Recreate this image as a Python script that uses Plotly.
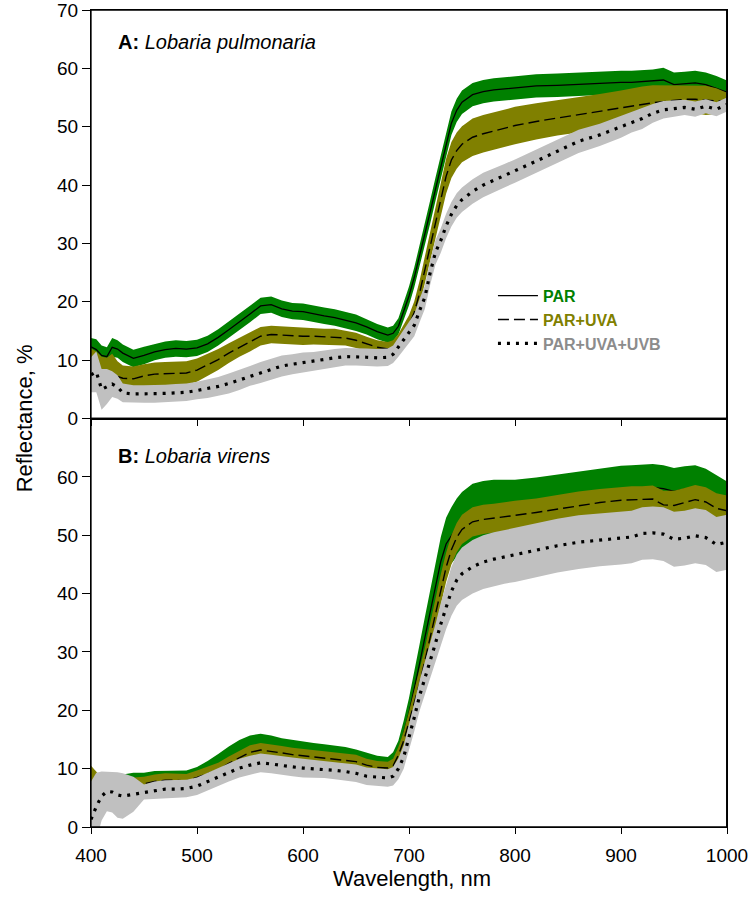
import plotly.graph_objects as go
from plotly.subplots import make_subplots

wavelength = [400, 405, 410, 415, 420, 425, 430, 440, 450, 460, 470, 480, 490, 500, 510, 520, 530, 540, 550, 560,
              570, 580, 590, 600, 610, 620, 630, 640, 650, 660, 670, 680, 685, 690, 695, 700, 705, 710, 715, 720,
              725, 730, 735, 740, 745, 750, 760, 770, 780, 790, 800, 820, 840, 860, 880, 900, 910, 920, 930, 940,
              950, 960, 970, 980, 990, 1000]

# Panel A: Lobaria pulmonaria (means and half-widths of the shaded bands)
a_par = [12.3, 11.8, 10.8, 10.6, 12.2, 11.9, 11.2, 10.3, 10.8, 11.4, 11.8, 12.0, 11.9, 12.1, 12.8, 13.9, 15.2, 16.5, 17.9, 19.3,
         19.5, 18.8, 18.4, 18.3, 17.9, 17.6, 17.3, 16.9, 16.4, 15.7, 14.9, 14.3, 14.6, 15.8, 18.3, 21.0, 24.2, 27.8, 31.6, 35.4,
         39.3, 43.2, 47.0, 50.6, 52.8, 54.2, 55.5, 56.0, 56.3, 56.5, 56.7, 57.0, 57.1, 57.3, 57.4, 57.6, 57.6, 57.7, 57.8, 58.0,
         57.2, 57.3, 57.5, 57.2, 56.6, 55.9]
a_par_err = [1.5, 1.8, 1.7, 1.6, 1.6, 1.5, 1.5, 1.5, 1.5, 1.4, 1.4, 1.4, 1.4, 1.4, 1.4, 1.4, 1.4, 1.4, 1.4, 1.4,
             1.4, 1.4, 1.4, 1.4, 1.4, 1.4, 1.4, 1.4, 1.4, 1.3, 1.3, 1.3, 1.3, 1.4, 1.5, 1.6, 1.7, 1.8, 1.9, 2.0,
             2.0, 2.0, 2.0, 2.0, 2.0, 2.0, 2.0, 2.0, 2.0, 2.0, 2.0, 2.0, 2.0, 2.0, 2.0, 2.0, 2.0, 2.0, 2.0, 2.1,
             2.1, 2.1, 2.1, 2.1, 2.1, 2.0]
a_uva = [10.0, 9.0, 8.0, 7.4, 7.5, 7.2, 6.9, 6.8, 7.3, 7.6, 7.7, 7.7, 7.8, 8.3, 9.2, 10.1, 11.2, 12.2, 13.1, 14.1,
         14.4, 14.3, 14.1, 14.1, 14.1, 14.0, 14.0, 13.8, 13.4, 12.8, 12.2, 11.9, 12.2, 13.2, 14.5, 16.0, 18.2, 21.5, 25.5, 29.5,
         33.8, 37.8, 41.5, 44.3, 45.9, 47.0, 48.2, 48.8, 49.3, 49.8, 50.2, 50.9, 51.5, 52.0, 52.6, 53.2, 53.6, 53.9, 54.1, 54.3,
         54.5, 54.7, 54.7, 54.5, 54.4, 54.4]
a_uva_err = [2.0, 2.5, 2.6, 3.0, 3.6, 2.6, 2.2, 2.1, 2.0, 2.0, 2.0, 2.0, 2.0, 2.0, 1.9, 1.8, 1.7, 1.6, 1.6, 1.6,
             1.5, 1.5, 1.5, 1.5, 1.4, 1.4, 1.4, 1.3, 1.3, 1.2, 1.2, 1.2, 1.2, 1.3, 1.5, 1.7, 1.9, 2.1, 2.3, 2.5,
             2.7, 2.9, 3.0, 3.1, 3.1, 3.1, 3.2, 3.2, 3.2, 3.2, 3.2, 3.1, 3.0, 3.0, 3.0, 3.0, 3.0, 3.0, 3.0, 2.8,
             2.5, 2.4, 2.4, 2.5, 2.2, 1.4]
a_uvb = [7.5, 8.0, 5.0, 5.5, 5.9, 5.4, 4.4, 4.2, 4.2, 4.2, 4.3, 4.4, 4.5, 4.8, 5.1, 5.5, 6.0, 6.6, 7.3, 7.9,
         8.5, 9.0, 9.3, 9.6, 9.8, 10.1, 10.4, 10.6, 10.6, 10.5, 10.4, 10.5, 11.0, 12.2, 13.4, 14.6, 16.0, 18.5, 20.8, 25.0,
         28.5, 30.5, 33.0, 35.0, 36.5, 37.5, 38.9, 40.0, 40.8, 41.6, 42.4, 44.1, 45.8, 47.5, 48.6, 50.0, 50.8, 51.4, 52.3, 52.9,
         53.1, 53.3, 53.0, 53.5, 53.0, 53.8]
a_uvb_err = [3.0, 3.5, 3.5, 3.0, 2.2, 2.0, 1.6, 1.5, 1.5, 1.5, 1.5, 1.5, 1.5, 1.5, 1.6, 1.6, 1.7, 1.7, 1.7, 1.8,
             1.8, 1.8, 1.7, 1.7, 1.6, 1.6, 1.5, 1.5, 1.5, 1.5, 1.5, 1.5, 1.5, 1.6, 1.7, 1.8, 1.9, 2.0, 2.0, 2.1,
             2.1, 2.1, 2.1, 2.1, 2.1, 2.1, 2.1, 2.1, 2.0, 2.0, 2.0, 2.0, 2.0, 2.0, 1.9, 1.9, 1.8, 1.8, 1.6, 1.5,
             1.4, 1.3, 1.3, 1.2, 1.2, 1.2]

# Panel B: Lobaria virens
b_par = [8.0, 7.5, 7.5, 7.8, 8.0, 7.8, 7.8, 8.0, 8.0, 8.3, 8.3, 8.3, 8.4, 8.8, 9.6, 10.6, 11.8, 12.8, 13.5, 13.8,
         13.6, 13.2, 13.0, 12.9, 12.7, 12.5, 12.4, 12.1, 11.8, 11.2, 10.8, 10.6, 11.3, 13.0, 16.0, 19.5, 23.5, 28.0, 32.5, 37.0,
         41.5, 45.5, 48.5, 50.0, 51.3, 52.2, 53.4, 54.0, 54.5, 54.9, 55.3, 55.8, 56.4, 57.0, 57.5, 57.9, 58.0, 58.1, 58.2, 58.0,
         57.5, 57.9, 58.1, 57.7, 56.9, 56.2]
b_par_err = [1.0, 1.0, 1.0, 1.0, 1.2, 1.2, 1.2, 1.3, 1.3, 1.3, 1.3, 1.3, 1.3, 1.5, 1.7, 1.9, 2.0, 2.1, 2.2, 2.2,
             2.1, 2.0, 1.9, 1.8, 1.7, 1.7, 1.6, 1.6, 1.5, 1.5, 1.4, 1.4, 1.5, 1.8, 2.2, 2.6, 3.0, 3.3, 3.5, 3.6,
             3.8, 4.2, 4.5, 4.8, 5.0, 5.2, 5.4, 5.3, 5.0, 4.6, 4.2, 4.1, 4.0, 4.0, 4.0, 4.0, 4.0, 4.0, 4.0, 4.0,
             4.0, 3.9, 3.9, 3.7, 3.4, 3.0]
b_uva = [7.5, 6.0, 5.5, 6.5, 7.0, 7.0, 7.2, 7.3, 7.4, 7.8, 8.0, 8.0, 7.9, 8.5, 9.2, 9.8, 10.9, 11.9, 12.8, 13.2,
         13.0, 12.7, 12.4, 12.2, 12.0, 11.8, 11.5, 11.4, 11.2, 10.6, 10.2, 10.1, 10.5, 12.3, 14.8, 18.0, 21.3, 24.6, 28.5, 32.6,
         36.8, 40.8, 44.5, 47.5, 49.6, 51.0, 52.3, 52.7, 52.9, 53.2, 53.4, 53.9, 54.5, 55.1, 55.6, 56.0, 56.1, 56.1, 56.2, 55.2,
         55.1, 55.6, 56.1, 55.7, 54.6, 54.2]
b_uva_err = [3.0, 3.5, 3.0, 2.0, 1.5, 1.3, 1.2, 1.2, 1.2, 1.2, 1.2, 1.2, 1.2, 1.2, 1.2, 1.2, 1.2, 1.2, 1.2, 1.2,
             1.2, 1.2, 1.2, 1.2, 1.2, 1.2, 1.2, 1.2, 1.2, 1.1, 1.1, 1.1, 1.2, 1.4, 1.6, 1.8, 2.0, 2.1, 2.2, 2.3,
             2.4, 2.5, 2.5, 2.5, 2.5, 2.5, 2.5, 2.5, 2.5, 2.5, 2.5, 2.4, 2.4, 2.4, 2.3, 2.3, 2.3, 2.3, 2.3, 2.4,
             2.5, 2.5, 2.5, 2.5, 2.6, 2.6]
b_uvb = [1.3, 3.5, 5.3, 6.1, 6.0, 5.5, 5.3, 5.6, 6.0, 6.3, 6.5, 6.5, 6.6, 7.0, 7.8, 8.6, 9.4, 10.1, 10.6, 11.0,
         10.8, 10.5, 10.3, 10.1, 10.0, 9.9, 9.7, 9.5, 9.2, 8.7, 8.5, 8.4, 8.7, 10.0, 12.0, 15.3, 18.8, 22.5, 25.5, 28.3,
         31.5, 34.8, 37.8, 40.4, 42.3, 43.4, 44.6, 45.4, 45.9, 46.3, 46.6, 47.4, 48.2, 48.8, 49.2, 49.5, 49.7, 50.3, 50.4, 50.2,
         49.3, 49.5, 49.9, 49.6, 48.4, 48.8]
b_uvb_err = [6.5, 5.8, 4.2, 3.4, 3.5, 3.9, 3.9, 3.0, 1.3, 1.5, 1.5, 1.5, 1.5, 1.5, 1.5, 1.5, 1.6, 1.6, 1.6, 1.6,
             1.6, 1.6, 1.6, 1.6, 1.5, 1.5, 1.5, 1.5, 1.5, 1.5, 1.5, 1.5, 1.6, 1.8, 2.0, 2.2, 2.4, 2.6, 2.8, 3.0,
             3.3, 3.6, 3.9, 4.2, 4.4, 4.5, 4.6, 4.6, 4.6, 4.6, 4.6, 4.6, 4.6, 4.6, 4.5, 4.5, 4.5, 4.5, 4.5, 4.6,
             4.7, 4.7, 4.7, 4.7, 4.7, 4.7]

x_ticks = [400, 500, 600, 700, 800, 900, 1000]
y_ticks_a = [0, 10, 20, 30, 40, 50, 60, 70]
y_ticks_b = [0, 10, 20, 30, 40, 50, 60]

series_names = ["PAR", "PAR+UVA", "PAR+UVA+UVB"]
band_colors = ["#008000", "#808000", "#C0C0C0"]
label_colors = ["#008000", "#808000", "#8C8C8C"]
line_dashes = ["solid", "11px,5px", "3px,6px"]
line_widths = [1.3, 1.4, 3.2]

FONT = "Arial, 'Liberation Sans', Helvetica, sans-serif"

fig = make_subplots(rows=2, cols=1, shared_xaxes=True, vertical_spacing=0)

panels = [
    (1, [a_par, a_uva, a_uvb], [a_par_err, a_uva_err, a_uvb_err]),
    (2, [b_par, b_uva, b_uvb], [b_par_err, b_uva_err, b_uvb_err]),
]

# each series: its shaded band, then its mean line (later series cover earlier ones)
for row, means, errs in panels:
    for i in range(3):
        m, e = means[i], errs[i]
        upper = [v + d for v, d in zip(m, e)]
        lower = [v - d for v, d in zip(m, e)]
        fig.add_trace(go.Scatter(x=wavelength, y=upper, mode="lines", line=dict(width=0, color=band_colors[i]),
                                 showlegend=False, hoverinfo="skip"), row=row, col=1)
        fig.add_trace(go.Scatter(x=wavelength, y=lower, mode="lines", line=dict(width=0, color=band_colors[i]),
                                 fill="tonexty", fillcolor=band_colors[i], showlegend=False, hoverinfo="skip"),
                      row=row, col=1)
        name = '<b><span style="color:%s">%s</span></b>' % (label_colors[i], series_names[i])
        fig.add_trace(go.Scatter(x=wavelength, y=m, mode="lines", name=name,
                                 line=dict(color="black", width=line_widths[i], dash=line_dashes[i]),
                                 showlegend=(row == 1)), row=row, col=1)

axis_common = dict(showline=True, linecolor="black", linewidth=1.3, mirror=True, showgrid=False, zeroline=False,
                   ticks="outside", tickcolor="black", tickwidth=1.2, automargin=False,
                   ticklabeloverflow="allow", layer="above traces",
                   tickfont=dict(family=FONT, size=19, color="black"))

fig.update_xaxes(range=[400, 1000], tickvals=x_ticks, ticklen=6, **axis_common)
fig.update_xaxes(showticklabels=False, row=1, col=1)
fig.update_xaxes(showticklabels=True, ticklabelstandoff=5, row=2, col=1)
fig.update_yaxes(range=[0, 70], ticklen=8, **axis_common)
fig.update_yaxes(tickvals=y_ticks_a, row=1, col=1)
fig.update_yaxes(tickvals=y_ticks_b, row=2, col=1)

# panel frames
frame_shapes = [
    dict(type="rect", xref="x domain", yref="y domain", x0=0, x1=0.9995, y0=0, y1=1,
         line=dict(color="black", width=1.3), fillcolor="rgba(0,0,0,0)", layer="above"),
    dict(type="rect", xref="x2 domain", yref="y2 domain", x0=0, x1=0.9995, y0=0, y1=1,
         line=dict(color="black", width=1.3), fillcolor="rgba(0,0,0,0)", layer="above"),
]

fig.update_layout(
    template="none",
    width=748, height=907,
    margin=dict(l=91, r=21, t=10, b=80, autoexpand=False),
    paper_bgcolor="white", plot_bgcolor="white",
    font=dict(family=FONT, color="black"),
    shapes=frame_shapes,
    legend=dict(x=0.632, y=0.671, xanchor="left", yanchor="top", bgcolor="rgba(0,0,0,0)",
                font=dict(family=FONT, size=16), tracegroupgap=0, itemwidth=40, traceorder="normal"),
    annotations=[
        dict(text="<b>A:</b> <i>Lobaria pulmonaria</i>", xref="x domain", yref="y domain", x=0.04, y=0.922,
             xanchor="left", yanchor="middle", showarrow=False, font=dict(family=FONT, size=20, color="black")),
        dict(text="<b>B:</b> <i>Lobaria virens</i>", xref="x2 domain", yref="y2 domain", x=0.04, y=0.907,
             xanchor="left", yanchor="middle", showarrow=False, font=dict(family=FONT, size=20, color="black")),
        dict(text="Reflectance, %", xref="paper", yref="paper", x=-0.104, y=0.5, textangle=-90,
             xanchor="center", yanchor="middle", showarrow=False, font=dict(family=FONT, size=22, color="black")),
        dict(text="Wavelength, nm", xref="paper", yref="paper", x=0.504, y=-0.0627,
             xanchor="center", yanchor="middle", showarrow=False, font=dict(family=FONT, size=22, color="black")),
    ],
)

fig.write_html("out.html")
